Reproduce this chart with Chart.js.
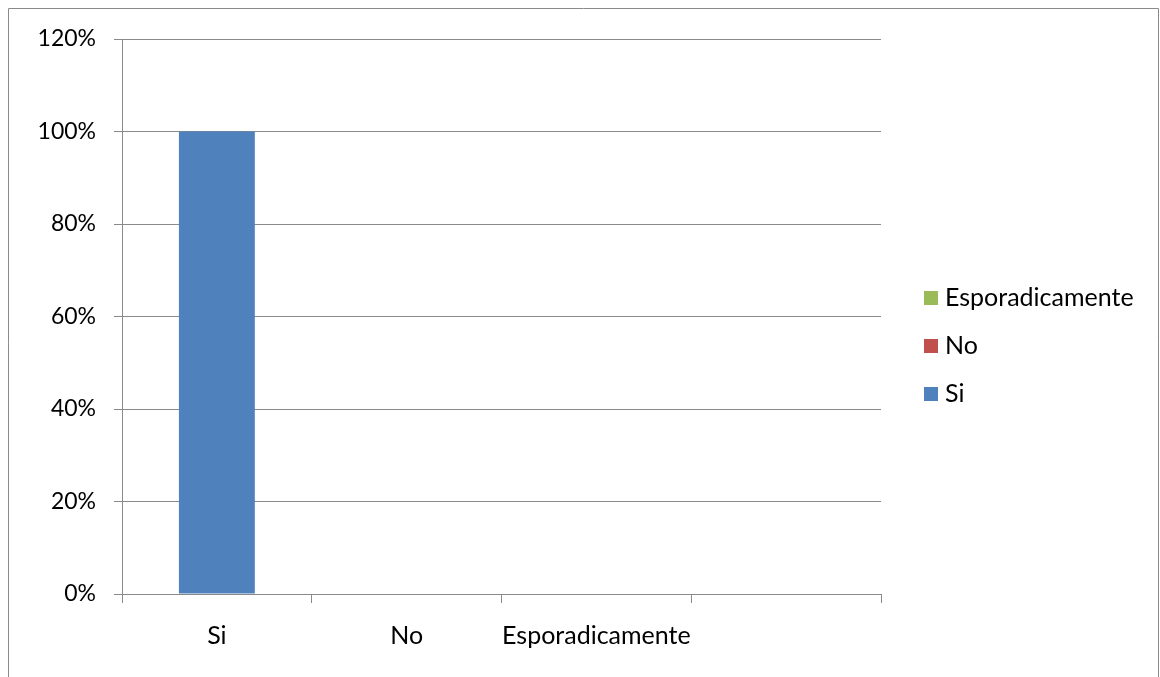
<!DOCTYPE html>
<html><head><meta charset="utf-8">
<script src="https://cdn.jsdelivr.net/npm/chart.js@4.4.1/dist/chart.umd.min.js"></script>
<style>html,body{margin:0;padding:0;background:#fff}#wrap{width:1160px;height:677px;position:relative}</style>
</head><body><div id="wrap"><canvas id="c" width="1160" height="677"></canvas></div>
<script>
const categories = ['Si', 'No', 'Esporadicamente', ''];
const seriesNames = ['Si', 'No', 'Esporadicamente'];
const siValues = [100, 0, 0, null];
const noValues = [0, 0, 0, null];
const esporadicamenteValues = [0, 0, 0, null];
const yTicks = [0, 20, 40, 60, 80, 100, 120];
const colors = ['#4F81BD', '#C0504D', '#9BBB59'];
const FONT = 'Lato';

const frame = {
  id: 'frame',
  beforeDraw(chart) {
    const ctx = chart.ctx;
    ctx.save();
    ctx.fillStyle = '#fff';
    ctx.fillRect(0, 0, chart.width, chart.height);
    ctx.strokeStyle = '#8a8a8a';
    ctx.lineWidth = 1;
    ctx.beginPath();
    ctx.moveTo(8.5, 677); ctx.lineTo(8.5, 8.5); ctx.lineTo(1158.5, 8.5); ctx.lineTo(1158.5, 677);
    ctx.stroke();
    ctx.restore();
  },
  afterDraw(chart) {
    const ctx = chart.ctx;
    ctx.save();
    const ds = chart.data.datasets.slice().reverse();
    ctx.font = '25px ' + FONT;
    ctx.textBaseline = 'middle';
    ds.forEach((d, i) => {
      const y = 298 + i * 48;
      ctx.fillStyle = d.backgroundColor;
      ctx.fillRect(924, y - 7, 14, 14);
      ctx.fillStyle = '#000';
      ctx.fillText(d.label, 945, y);
    });
    ctx.restore();
  }
};

new Chart(document.getElementById('c'), {
  type: 'bar',
  data: {
    labels: categories,
    datasets: [
      { label: seriesNames[0], data: siValues, backgroundColor: colors[0] },
      { label: seriesNames[1], data: noValues, backgroundColor: colors[1] },
      { label: seriesNames[2], data: esporadicamenteValues, backgroundColor: colors[2] }
    ]
  },
  options: {
    responsive: false,
    animation: false,
    devicePixelRatio: 1,
    layout: { padding: { left: 10, top: 39, right: 1160 - 881, bottom: 0 } },
    plugins: { legend: { display: false }, tooltip: { enabled: false } },
    datasets: { bar: { barPercentage: 0.4, categoryPercentage: 1, borderWidth: 0 } },
    scales: {
      x: {
        stacked: true,
        offset: true,
        grid: { offset: true, drawOnChartArea: false, color: '#8a8a8a', tickLength: 9, tickColor: '#8a8a8a' },
        border: { color: '#8a8a8a' },
        ticks: { font: { family: FONT, size: 25 }, color: '#000', padding: 18, maxRotation: 0, autoSkip: false },
        afterFit(s) { s.height = 677 - 594; }
      },
      y: {
        stacked: true,
        min: 0, max: 120,
        afterBuildTicks(s) { s.ticks = yTicks.map(v => ({ value: v })); },
        grid: { color: '#8a8a8a', tickLength: 8, tickColor: '#8a8a8a' },
        border: { color: '#8a8a8a' },
        ticks: { font: { family: FONT, size: 23 }, color: '#000', padding: 18, callback: v => v + '%' },
        afterFit(s) { s.width = 122 - 10; }
      }
    }
  },
  plugins: [frame]
});
</script></body></html>
